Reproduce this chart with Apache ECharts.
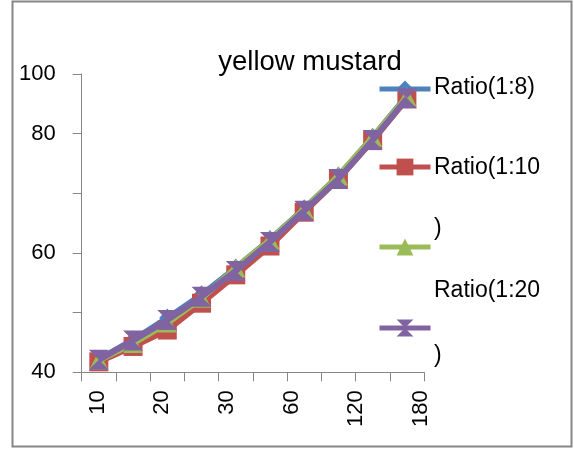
<!DOCTYPE html>
<html>
<head>
<meta charset="utf-8">
<script src="https://cdn.jsdelivr.net/npm/echarts@6/dist/echarts.min.js"></script>
<style>
html,body{margin:0;padding:0;background:#fff;}
#chart{width:574px;height:449px;}
</style>
</head>
<body>
<div id="chart"></div>
<script>
// ---- data ----
var categories = ['10','15','20','25','30','45','60','90','120','180'];
var xTickLabels = ['10','20','30','60','120','180'];
var yTickValues = [40, 52, 64, 76, 88, 100];
var yTickLabels = ['40', '', '60', '', '80', '100'];
var seriesNames = ['Ratio(1:8)', 'Ratio(1:10)', 'Ratio(1:15)', 'Ratio(1:20)'];
var ratio8  = [42.6, 46.5, 50.9, 55.6, 61.0, 66.7, 72.9, 79.5, 87.3, 95.6];
var ratio10 = [42.1, 45.2, 48.5, 53.9, 59.6, 65.4, 72.2, 78.9, 86.6, 95.0];
var ratio15 = [42.4, 45.8, 49.9, 54.9, 61.0, 66.6, 72.8, 79.5, 87.3, 95.4];
var ratio20 = [42.5, 46.4, 50.5, 55.2, 60.4, 66.2, 72.5, 78.9, 86.7, 95.1];

var colors = ['#4F81BD', '#C0504D', '#9BBB59', '#8064A2'];
var hourglass = 'path://M0,0 L10,0 L5,5 L10,10 L0,10 L5,5 Z';
var symbols = ['diamond', 'rect', 'triangle', hourglass];
var symbolSizes = [[16,19], 19, 19, 20];
var values = [ratio8, ratio10, ratio15, ratio20];

var FONT = '"Liberation Sans", Arial, sans-serif';

var chart = echarts.init(document.getElementById('chart'), null, {renderer: 'canvas'});

var series = values.map(function (v, i) {
  return {
    name: seriesNames[i],
    type: 'line',
    xAxisIndex: 0,
    yAxisIndex: 0,
    data: v,
    symbol: symbols[i],
    symbolSize: symbolSizes[i],
    showAllSymbol: true,
    color: colors[i],
    lineStyle: {width: 6, color: colors[i]},
    itemStyle: {color: colors[i]},
    emphasis: {disabled: true},
    animation: false,
    z: 2 + i
  };
});

var legendY = [89, 167, 247, 328];
var legends = seriesNames.map(function (n, i) {
  return {
    data: [n],
    left: 377,
    top: legendY[i] - 10.5,
    orient: 'vertical',
    itemWidth: 51,
    itemHeight: 21,
    padding: 0,
    formatter: function () { return ''; },
    selectedMode: false,
    lineStyle: {width: 5, color: colors[i]},
    itemStyle: {color: colors[i]},
    textStyle: {fontSize: 1}
  };
});

var legendTexts = [
  {t: 'Ratio(1:8)', y: 88},
  {t: 'Ratio(1:10', y: 168},
  {t: ')', y: 229},
  {t: 'Ratio(1:20', y: 291},
  {t: ')', y: 356}
];

var graphics = [{
  type: 'rect',
  shape: {x: 12.5, y: 1.5, width: 559, height: 445},
  style: {fill: 'none', stroke: '#868686', lineWidth: 2},
  silent: true,
  z: -1
}].concat(legendTexts.map(function (o) {
  return {
    type: 'text',
    x: 434, y: o.y,
    style: {text: o.t, font: '23px ' + FONT, fill: '#000', textAlign: 'left', textVerticalAlign: 'middle'},
    silent: true
  };
}));

var option = {
  backgroundColor: '#fff',
  animation: false,
  title: {
    text: 'yellow mustard',
    left: 305,
    top: 43,
    textAlign: 'center',
    textStyle: {fontFamily: FONT, fontSize: 27.5, fontWeight: 'normal', color: '#000'}
  },
  legend: legends,
  grid: {left: 81.7, right: 150, top: 74, bottom: 76.7, containLabel: false},
  xAxis: [{
    type: 'category',
    data: categories,
    position: 'bottom',
    boundaryGap: true,
    axisLine: {onZero: false, lineStyle: {color: '#868686', width: 1}},
    axisTick: {show: true, length: 9, alignWithLabel: false, interval: 0, lineStyle: {color: '#868686'}},
    axisLabel: {show: false},
    splitLine: {show: false}
  }, {
    type: 'value',
    position: 'bottom',
    min: -0.25,
    max: 5.05,
    axisLine: {show: false, onZero: false},
    axisTick: {show: false},
    splitLine: {show: false},
    axisLabel: {
      show: true,
      customValues: [0, 1, 2, 3, 4, 5],
      formatter: function (v) { return xTickLabels[Math.round(v)]; },
      rotate: 90,
      margin: 18,
      fontFamily: FONT,
      fontSize: 22,
      color: '#000'
    }
  }],
  yAxis: [{
    type: 'value',
    min: 40,
    max: 100,
    axisLine: {show: true, onZero: false, lineStyle: {color: '#868686', width: 1}},
    axisTick: {show: true, length: 9, customValues: yTickValues, lineStyle: {color: '#868686'}},
    splitLine: {show: false},
    axisLabel: {
      customValues: yTickValues,
      formatter: function (v) {
        var k = yTickValues.indexOf(v);
        return k >= 0 ? yTickLabels[k] : '';
      },
      margin: 26,
      fontFamily: FONT,
      fontSize: 22,
      color: '#000'
    }
  }],
  graphic: graphics,
  series: series
};
chart.setOption(option);
</script>
</body>
</html>
